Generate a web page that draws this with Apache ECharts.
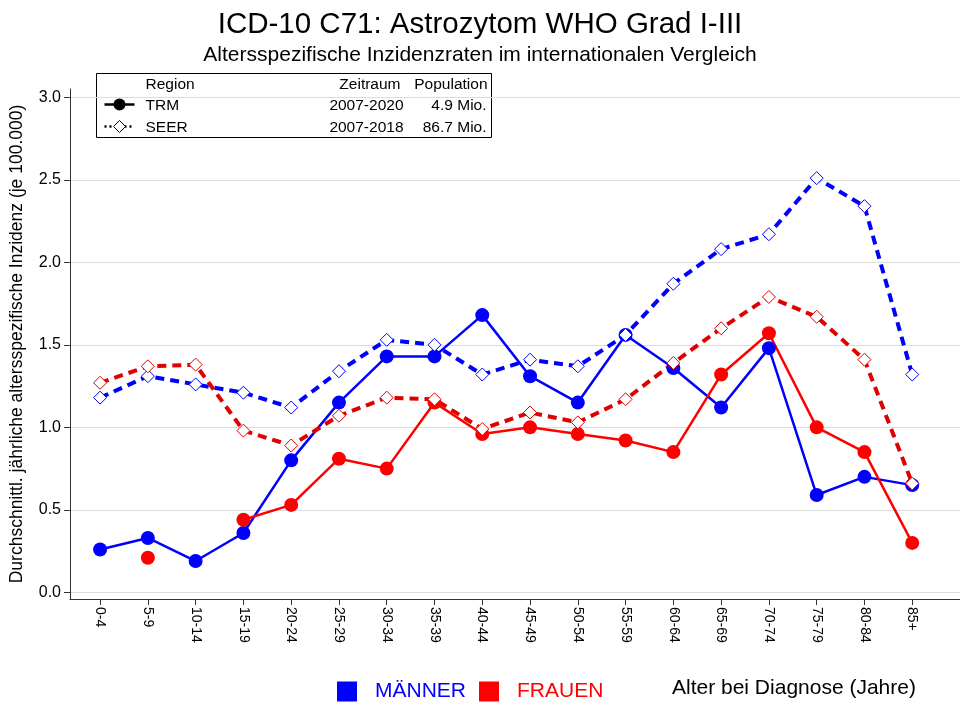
<!DOCTYPE html>
<html>
<head>
<meta charset="utf-8">
<script src="https://cdn.jsdelivr.net/npm/echarts@6/dist/echarts.min.js"></script>
<style>
  html, body { margin: 0; padding: 0; background: #fff; }
  #chart { width: 960px; height: 707px; }
</style>
</head>
<body>
<div id="chart"></div>
<script>
// age groups (x axis)
const ageGroups = ['0-4', '5-9', '10-14', '15-19', '20-24', '25-29', '30-34', '35-39', '40-44',
    '45-49', '50-54', '55-59', '60-64', '65-69', '70-74', '75-79', '80-84', '85+'];

const yTicks = [0, 0.5, 1, 1.5, 2, 2.5, 3];

// TRM, solid line, filled circles
const trmMaenner = [0.26, 0.33, 0.19, 0.36, 0.80, 1.15, 1.43, 1.43, 1.68, 1.31, 1.15, 1.56, 1.36, 1.12, 1.48, 0.59, 0.70, 0.65];
const trmFrauen = ['-', 0.21, '-', 0.44, 0.53, 0.81, 0.75, 1.15, 0.96, 1.00, 0.96, 0.92, 0.85, 1.32, 1.57, 1.00, 0.85, 0.30];

// SEER, dashed line, hollow diamonds
const seerMaenner = [1.18, 1.31, 1.26, 1.21, 1.12, 1.34, 1.53, 1.50, 1.32, 1.41, 1.37, 1.56, 1.87, 2.08, 2.17, 2.51, 2.34, 1.32];
const seerFrauen = [1.27, 1.37, 1.38, 0.98, 0.89, 1.07, 1.18, 1.17, 0.99, 1.09, 1.03, 1.17, 1.39, 1.60, 1.79, 1.67, 1.41, 0.66];

const BLUE = '#0000ff';
const RED = '#ff0000';
const RED_DASH = '#e00000';
const FONT = 'Liberation Sans, Arial, sans-serif';
const LEG_FS = 15.5;

function toPairs(arr) {
    return arr.map((v, i) => [i, v]);
}

function trmSeries(name, data, color) {
    return {
        name: name,
        type: 'line',
        data: toPairs(data),
        symbol: 'circle',
        symbolSize: 14,
        itemStyle: { color: color },
        lineStyle: { color: color, width: 2.5 },
        connectNulls: false
    };
}

function seerSeries(name, data, color) {
    return {
        name: name,
        type: 'line',
        data: toPairs(data),
        symbol: 'diamond',
        symbolSize: 13,
        itemStyle: { color: '#fff', borderColor: color, borderWidth: 1 },
        lineStyle: { color: color, width: 4, type: [9, 6] }
    };
}

function legText(text, x, y, align) {
    return {
        type: 'text', x: x, y: y,
        style: { text: text, fontFamily: FONT, fontSize: LEG_FS, fill: '#000', align: align || 'left', verticalAlign: 'middle' }
    };
}

const chart = echarts.init(document.getElementById('chart'));

const option = {
    animation: false,
    backgroundColor: '#fff',
    textStyle: { fontFamily: FONT },
    title: [
        {
            text: 'ICD-10 C71: Astrozytom WHO Grad I-III',
            left: 'center', top: 5,
            textStyle: { fontFamily: FONT, fontSize: 29.5, fontWeight: 'normal', color: '#000' }
        },
        {
            text: 'Altersspezifische Inzidenzraten im internationalen Vergleich',
            left: 'center', top: 40,
            textStyle: { fontFamily: FONT, fontSize: 21, fontWeight: 'normal', color: '#000' }
        }
    ],
    grid: { left: 70, right: 0, top: 89, bottom: 108 },
    xAxis: {
        type: 'value',
        min: -0.63,
        max: 18,
        axisLine: { show: true, onZero: false, lineStyle: { color: '#333', width: 1 } },
        axisTick: { show: true, length: 6, lineStyle: { color: '#333' }, customValues: ageGroups.map((a, i) => i) },
        axisLabel: {
            customValues: ageGroups.map((a, i) => i),
            formatter: v => ageGroups[Math.round(v)],
            rotate: -90,
            fontSize: 14,
            color: '#000',
            fontFamily: FONT,
            margin: 8
        },
        splitLine: { show: false }
    },
    yAxis: {
        type: 'value',
        min: -0.04,
        max: 3.05,
        name: 'Durchschnittl. jährliche altersspezifische Inzidenz (je 100.000)',
        nameLocation: 'middle',
        nameGap: 44,
        nameTextStyle: { fontFamily: FONT, fontSize: 17.5, color: '#000' },
        axisLine: { show: true, onZero: false, lineStyle: { color: '#333', width: 1 } },
        axisTick: { show: true, length: 6, lineStyle: { color: '#333' }, customValues: yTicks },
        axisLabel: {
            customValues: yTicks,
            formatter: v => v.toFixed(1),
            fontSize: 16,
            color: '#000',
            fontFamily: FONT,
            margin: 9
        },
        splitLine: { show: true, lineStyle: { color: '#dcdcdc', width: 1 } }
    },
    legend: {
        left: 332,
        top: 676,
        icon: 'rect',
        itemWidth: 20,
        itemHeight: 20,
        itemGap: 13,
        selectedMode: false,
        data: [
            { name: 'MÄNNER', itemStyle: { color: BLUE }, textStyle: { color: BLUE } },
            { name: 'FRAUEN', itemStyle: { color: RED }, textStyle: { color: RED } }
        ],
        textStyle: { fontFamily: FONT, fontSize: 21, padding: [0, 0, 0, 13] }
    },
    graphic: [
        {
            type: 'text',
            left: 672, top: 678,
            style: { text: 'Alter bei Diagnose (Jahre)', fontFamily: FONT, fontSize: 21, fill: '#000' }
        },
        {
            type: 'group',
            left: 96, top: 73,
            children: [
                { type: 'rect', shape: { x: 0, y: 0, width: 395, height: 64 }, style: { fill: '#fff', stroke: '#000', lineWidth: 1 } },
                legText('Region', 49, 11),
                legText('Zeitraum', 304, 11, 'right'),
                legText('Population', 391, 11, 'right'),

                { type: 'line', shape: { x1: 8, y1: 31, x2: 38, y2: 31 }, style: { stroke: '#000', lineWidth: 2.5 } },
                { type: 'circle', shape: { cx: 23, cy: 31, r: 6 }, style: { fill: '#000' } },
                legText('TRM', 49, 32),
                legText('2007-2020', 307, 32, 'right'),
                legText('4.9 Mio.', 390, 32, 'right'),

                { type: 'line', shape: { x1: 8, y1: 53, x2: 38, y2: 53 }, style: { stroke: '#000', lineWidth: 2.5, lineDash: [2, 3] } },
                { type: 'polygon', shape: { points: [[23, 47], [29, 53], [23, 59], [17, 53]] }, style: { fill: '#fff', stroke: '#000', lineWidth: 1 } },
                legText('SEER', 49, 54),
                legText('2007-2018', 307, 54, 'right'),
                legText('86.7 Mio.', 390, 54, 'right')
            ]
        }
    ],
    series: [
        trmSeries('MÄNNER', trmMaenner, BLUE),
        trmSeries('FRAUEN', trmFrauen, RED),
        seerSeries('MÄNNER', seerMaenner, BLUE),
        seerSeries('FRAUEN', seerFrauen, RED_DASH)
    ]
};

chart.setOption(option);
</script>
</body>
</html>
